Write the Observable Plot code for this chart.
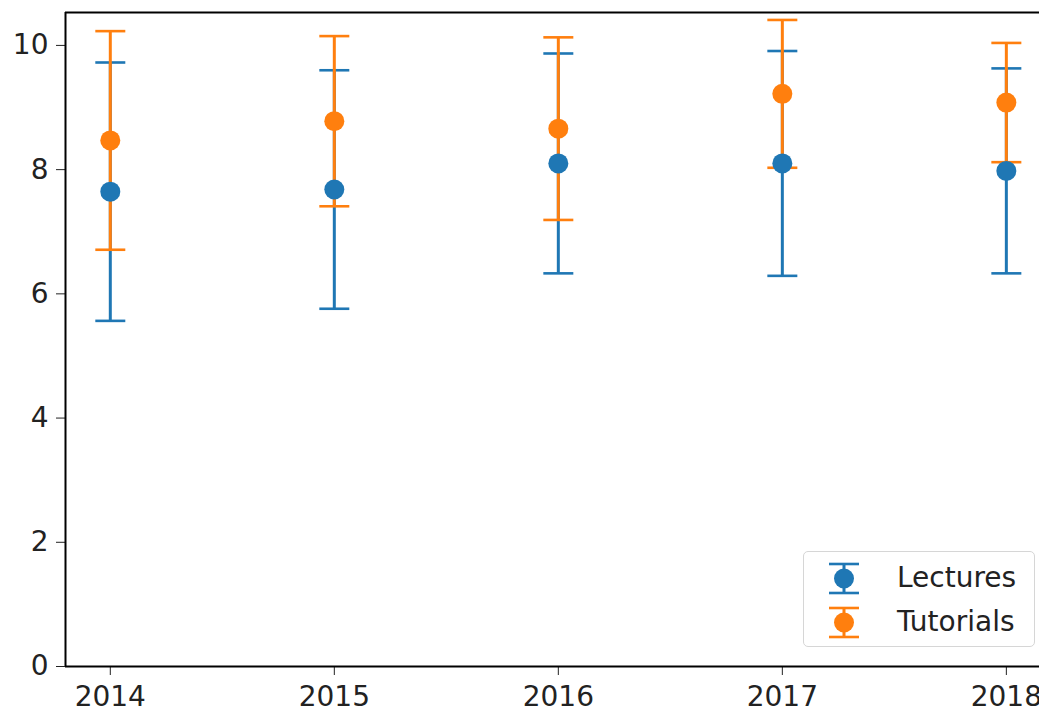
<!DOCTYPE html>
<html>
<head>
<meta charset="utf-8">
<script src="https://cdn.jsdelivr.net/npm/d3@7"></script>
<script src="https://cdn.jsdelivr.net/npm/@observablehq/plot@0.6"></script>
<style>
  html, body { margin: 0; padding: 0; background: #fff; }
  #wrap { position: relative; width: 1039px; height: 712px; overflow: hidden; font-family: "DejaVu Sans", sans-serif; }
  #legend { position: absolute; left: 803px; top: 551px; width: 232px; height: 96px; box-sizing: border-box;
            border: 1.5px solid #d6d6d6; border-radius: 5px; background: rgba(255,255,255,0.8); }
  .row { position: absolute; left: 0; height: 44px; width: 100%; }
  .row svg { position: absolute; left: 22px; top: 0; }
  .row span { position: absolute; left: 93px; top: 50%; transform: translateY(-50%); font-size: 28px; color: #222; line-height: 1; }
</style>
</head>
<body>
<div id="wrap"></div>
<script>
const years = [2014, 2015, 2016, 2017, 2018];
const lectureMeans = [7.645, 7.68, 8.10, 8.10, 7.98];
const lectureErrors = [2.08, 1.92, 1.77, 1.81, 1.65];
const tutorialMeans = [8.47, 8.78, 8.66, 9.22, 9.08];
const tutorialErrors = [1.76, 1.37, 1.47, 1.19, 0.96];
const seriesNames = ["Lectures", "Tutorials"];
const seriesColors = ["#1f77b4", "#ff7f0e"];
const yTicks = [0, 2, 4, 6, 8, 10];

function build(means, errs, name) {
  return years.map((yr, i) => ({year: yr, mean: means[i], lo: means[i] - errs[i], hi: means[i] + errs[i], series: name}));
}
const lectures = build(lectureMeans, lectureErrors, seriesNames[0]);
const tutorials = build(tutorialMeans, tutorialErrors, seriesNames[1]);

// horizontal cap symbol for error bars
const capSymbol = {
  draw(ctx, size) {
    const h = Math.sqrt(size / Math.PI);
    ctx.moveTo(-h, 0);
    ctx.lineTo(h, 0);
  }
};

function errMarks(data, color) {
  return [
    Plot.ruleX(data, {x: "year", y1: "lo", y2: "hi", stroke: color, strokeWidth: 3}),
    Plot.dot(data, {x: "year", y: "hi", symbol: capSymbol, r: 15, stroke: color, fill: "none", strokeWidth: 2.6}),
    Plot.dot(data, {x: "year", y: "lo", symbol: capSymbol, r: 15, stroke: color, fill: "none", strokeWidth: 2.6})
  ];
}

const chart = Plot.plot({
  width: 1039,
  height: 712,
  marginLeft: 65,
  marginRight: 0,
  marginTop: 12,
  marginBottom: 46,
  style: {fontFamily: "DejaVu Sans, sans-serif", fontSize: "28px", color: "#222", background: "#fff", overflow: "hidden"},
  x: {domain: [2013.8, 2018.148], ticks: years, tickFormat: d => String(d), tickSize: 9, tickPadding: 11, label: null},
  y: {domain: [0, 10.53], ticks: yTicks, tickFormat: d => String(d), tickSize: 9, tickPadding: 8, label: null},
  marks: [
    ...errMarks(lectures, seriesColors[0]),
    ...errMarks(tutorials, seriesColors[1]),
    Plot.dot(lectures, {x: "year", y: "mean", r: 10, fill: seriesColors[0], stroke: "none"}),
    Plot.dot(tutorials, {x: "year", y: "mean", r: 10, fill: seriesColors[1], stroke: "none"}),
    Plot.ruleY([0], {stroke: "#000", strokeWidth: 2}),
    Plot.ruleX([2013.8], {stroke: "#000", strokeWidth: 2}),
    Plot.ruleY([10.53], {stroke: "#000", strokeWidth: 2})
  ]
});

const wrap = document.getElementById("wrap");
wrap.appendChild(chart);

// legend overlay
const legend = document.createElement("div");
legend.id = "legend";
seriesNames.forEach((name, i) => {
  const row = document.createElement("div");
  row.className = "row";
  row.style.top = (4 + i * 44) + "px";
  const c = seriesColors[i];
  row.innerHTML = `<svg width="40" height="44" viewBox="0 0 40 44">
      <line x1="18" x2="18" y1="8" y2="37" stroke="${c}" stroke-width="3"/>
      <line x1="3" x2="33" y1="8" y2="8" stroke="${c}" stroke-width="2.6"/>
      <line x1="3" x2="33" y1="37" y2="37" stroke="${c}" stroke-width="2.6"/>
      <circle cx="18" cy="22.5" r="10" fill="${c}"/>
    </svg><span>${name}</span>`;
  legend.appendChild(row);
});
wrap.appendChild(legend);
</script>
</body>
</html>
